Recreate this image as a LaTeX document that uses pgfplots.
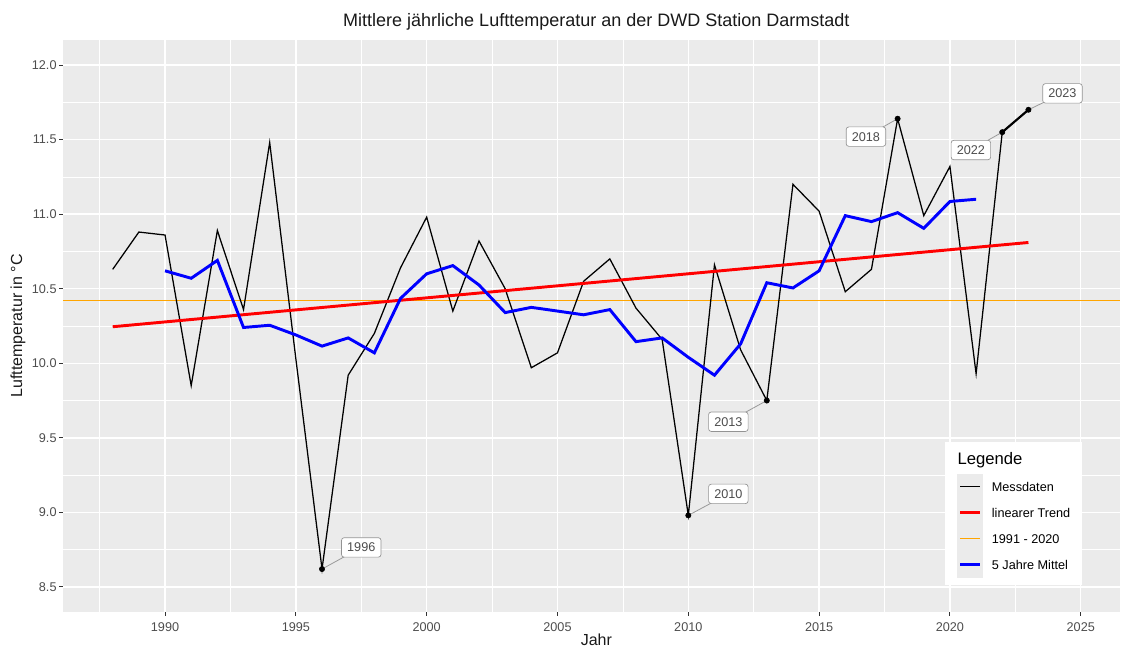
\documentclass[border=0pt]{standalone}
\usepackage{fontspec}
\setmainfont{Liberation Sans}
\usepackage{pgfplots}
\usepackage{pgfplotstable}
\pgfplotsset{compat=1.18}
\definecolor{panelbg}{HTML}{EBEBEB}
\definecolor{keybg}{HTML}{EBEBEB}
\definecolor{tickgrey}{HTML}{4D4D4D}
\definecolor{tickmark}{HTML}{333333}
\definecolor{rorange}{HTML}{FFA500}
\definecolor{labtext}{HTML}{4D4D4D}
\definecolor{segcol}{HTML}{999999}

\pgfplotstableread{
year temp
1988 10.63
1989 10.88
1990 10.86
1991 9.85
1992 10.89
1993 10.36
1994 11.48
1995 10.03
1996 8.62
1997 9.92
1998 10.20
1999 10.64
2000 10.98
2001 10.35
2002 10.82
2003 10.50
2004 9.97
2005 10.07
2006 10.55
2007 10.70
2008 10.37
2009 10.16
2010 8.98
2011 10.66
2012 10.09
2013 9.75
2014 11.20
2015 11.02
2016 10.48
2017 10.63
2018 11.64
2019 10.99
2020 11.32
2021 9.93
2022 11.55
2023 11.70
}\messdaten

\pgfplotstableread{
year mean
1990 10.62
1991 10.57
1992 10.69
1993 10.24
1994 10.255
1995 10.19
1996 10.115
1997 10.17
1998 10.07
1999 10.435
2000 10.60
2001 10.655
2002 10.525
2003 10.34
2004 10.375
2005 10.35
2006 10.325
2007 10.36
2008 10.145
2009 10.17
2010 10.04
2011 9.92
2012 10.13
2013 10.54
2014 10.505
2015 10.62
2016 10.99
2017 10.95
2018 11.01
2019 10.905
2020 11.085
2021 11.10
}\mittel

\tikzset{yl/.style={draw=gray!85, fill=white, rounded corners=2pt, line width=0.5pt,
  text=labtext, font=\fontsize{9.5}{11}\selectfont, inner xsep=4.25pt, inner ysep=3.9pt,
  text height=6.8pt, text depth=0pt}}

\begin{document}
\begin{tikzpicture}
\useasboundingbox (-47.25pt,-27pt) rectangle (793.5pt,459pt);
\begin{axis}[
  at={(0pt,0pt)}, anchor=south west,
  scale only axis, width=792.75pt, height=429pt,
  xmin=1986.1, xmax=2026.5, ymin=8.332, ymax=12.168,
  axis background/.style={fill=panelbg},
  axis line style={draw=none},
  xtick={1990,1995,2000,2005,2010,2015,2020,2025},
  minor xtick={1987.5,1992.5,1997.5,2002.5,2007.5,2012.5,2017.5,2022.5},
  ytick={8.5,9,9.5,10,10.5,11,11.5,12},
  minor ytick={8.75,9.25,9.75,10.25,10.75,11.25,11.75},
  grid=both,
  major grid style={white, line width=1.1pt},
  minor grid style={white, line width=0.55pt},
  tick align=outside, major tick length=3pt, minor tick length=0pt,
  tick style={tickmark, line width=0.8pt},
  xtick pos=bottom, ytick pos=left,
  tick label style={font=\fontsize{9.5}{11}\selectfont, text=tickgrey},
  /pgf/number format/assume math mode=true,
  x tick label style={/pgf/number format/1000 sep={}, yshift=-1.5pt},
  y tick label style={/pgf/number format/fixed, /pgf/number format/fixed zerofill, /pgf/number format/precision=1, xshift=1.7pt},
  legend style={at={(0.8344,0.0472)}, anchor=south west, fill=white, draw=none,
    inner xsep=9pt, inner ysep=5.25pt, row sep=0pt, column sep=6.5pt,
    nodes={inner sep=0pt, text depth=}, font=\fontsize{9.5}{11}\selectfont},
  legend cell align=left,
  legend image code/.code={\fill[keybg, draw=none] (0pt,-9.75pt) rectangle (19.5pt,9.75pt);
    \draw[#1] (2.25pt,0pt) -- (17.25pt,0pt);},
]
\addplot[rorange, line width=0.9pt, forget plot] coordinates {(1986.1,10.42) (2026.5,10.42)};
\addplot[black, line width=0.95pt, forget plot] table[x=year,y=temp]{\messdaten};
\addplot[black, line width=1.6pt, forget plot] coordinates {(2022,11.55) (2023,11.70)};
\addplot[red, line width=2.2pt, forget plot] coordinates {(1988,10.245) (2023,10.81)};
\addplot[blue, line width=2.2pt, forget plot] table[x=year,y=mean]{\mittel};

% leader segments
\addplot[segcol, line width=0.6pt, forget plot] coordinates {(1996,8.62) (1997.50,8.765)};
\addplot[segcol, line width=0.6pt, forget plot] coordinates {(2010,8.98) (2011.53,9.124)};
\addplot[segcol, line width=0.6pt, forget plot] coordinates {(2013,9.75) (2011.53,9.608)};
\addplot[segcol, line width=0.6pt, forget plot] coordinates {(2018,11.64) (2016.79,11.52)};
\addplot[segcol, line width=0.6pt, forget plot] coordinates {(2022,11.55) (2020.80,11.43)};
\addplot[segcol, line width=0.6pt, forget plot] coordinates {(2023,11.70) (2024.30,11.81)};

\addplot[only marks, mark=*, mark size=2pt, black, forget plot] coordinates {(1996,8.62) (2010,8.98) (2013,9.75) (2018,11.64) (2022,11.55) (2023,11.70)};

\node[yl] at (axis cs:1997.50,8.765) {1996};
\node[yl] at (axis cs:2011.53,9.124) {2010};
\node[yl] at (axis cs:2011.53,9.608) {2013};
\node[yl] at (axis cs:2016.79,11.52) {2018};
\node[yl] at (axis cs:2020.80,11.43) {2022};
\node[yl] at (axis cs:2024.30,11.81) {2023};

\addlegendimage{empty legend}
\addlegendentry{\hspace*{-25.75pt}\fontsize{12.5}{14}\selectfont\rule[-6.75pt]{0pt}{18.75pt}Legende}
\addlegendimage{color=black, line width=0.75pt}
\addlegendentry{Messdaten}
\addlegendimage{color=red, line width=2.2pt}
\addlegendentry{linearer Trend}
\addlegendimage{color=rorange, line width=1.1pt}
\addlegendentry{1991 - 2020}
\addlegendimage{color=blue, line width=2.2pt}
\addlegendentry{5 Jahre Mittel}
\end{axis}
\node[anchor=base, font=\fontsize{13.5}{16}\selectfont, text={black!90}] at (400pt,439.1pt) {Mittlere jährliche Lufttemperatur an der DWD Station Darmstadt};
\node[anchor=base, font=\fontsize{12}{14}\selectfont, text={black!90}] at (400pt,-25.5pt) {Jahr};
\node[rotate=90, anchor=center, font=\fontsize{12}{14}\selectfont, text={black!90}] at (-33.75pt,214.5pt) {Lufttemperatur in °C};
\end{tikzpicture}
\end{document}
